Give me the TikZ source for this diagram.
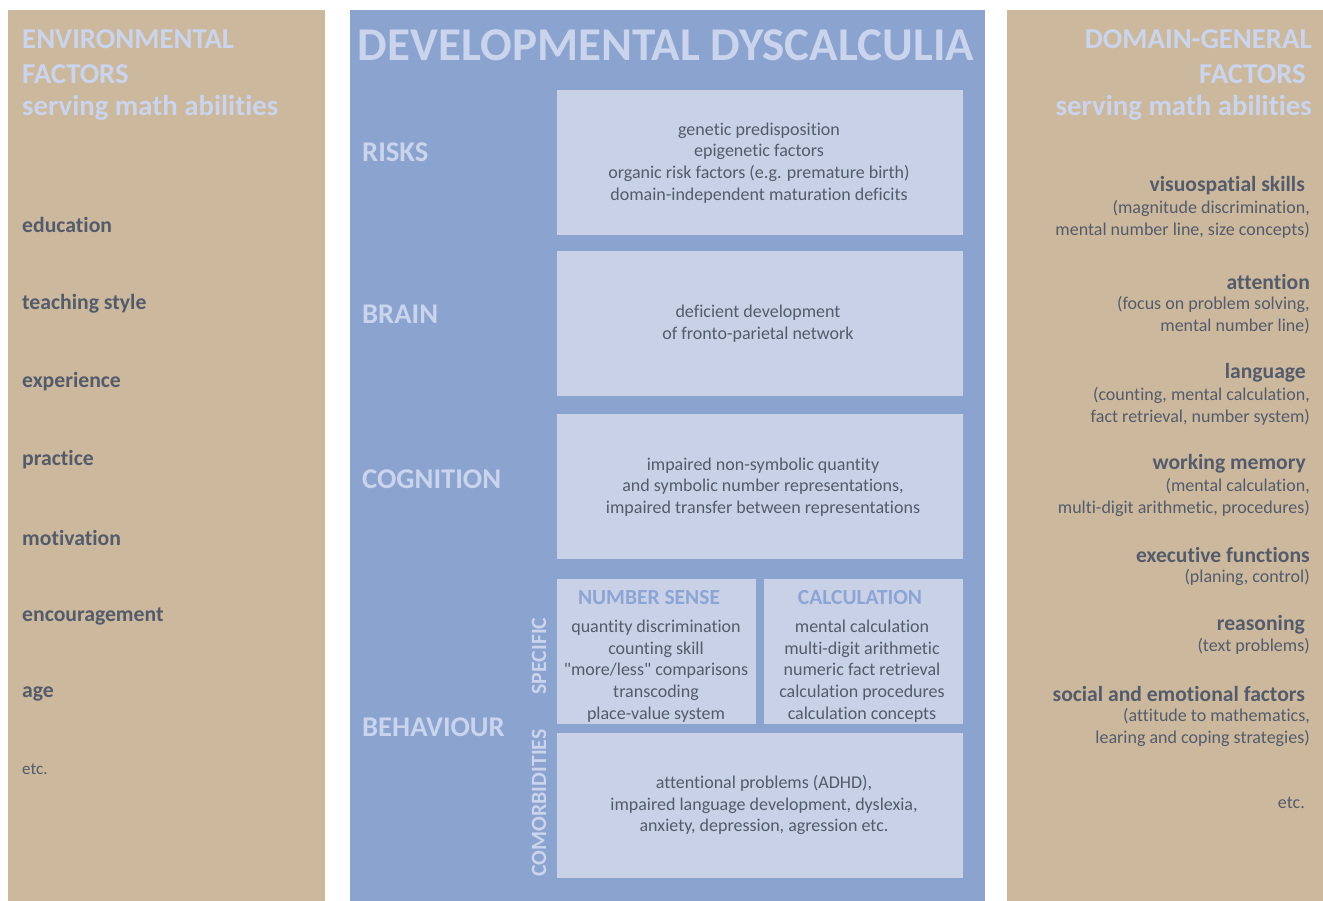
\documentclass[tikz,border=0pt]{standalone}
\usepackage{fontspec}
\setmainfont[Ligatures=NoCommon]{Carlito}
\definecolor{tan}{HTML}{CCB99D}
\definecolor{bluep}{HTML}{8BA3CF}
\definecolor{lightbox}{HTML}{C9D1E6}
\definecolor{titletext}{HTML}{CAD4EC}
\definecolor{darktext}{HTML}{545B6B}
\definecolor{headblue}{HTML}{8CA5D6}
\tikzset{
  heading/.style={inner sep=0pt, text=titletext, font={\fontsize{28.8}{35}\selectfont\bfseries}},
  rowlabel/.style={inner sep=0pt, anchor=west, text=titletext, font={\fontsize{28.6}{30}\selectfont\bfseries}},
  leftitem/.style={inner sep=0pt, anchor=west, text=darktext, font={\fontsize{21.7}{24}\selectfont\bfseries}},
  rtitle/.style={inner sep=0pt, anchor=east, text=darktext, font={\fontsize{21.6}{24}\selectfont\bfseries}},
  rsub/.style={inner sep=0pt, anchor=east, text=darktext, font={\fontsize{18}{22}\selectfont}},
  boxtext/.style={inner sep=0pt, align=center, text=darktext, font={\fontsize{18}{21.6}\selectfont}},
  subhead/.style={inner sep=0pt, text=headblue, font={\fontsize{21.5}{24}\selectfont\bfseries}},
  vlabel/.style={inner sep=0pt, rotate=90, text=titletext, font={\fontsize{21.8}{24}\selectfont\bfseries}}
}
\begin{document}
\begin{tikzpicture}[x=1pt,y=-1pt]
\useasboundingbox (0,0) rectangle (1323,901);
\fill[white] (0,0) rectangle (1323,901);
% panels
\fill[tan] (8,10) rectangle (325,901);
\fill[bluep] (350,10) rectangle (985,901);
\fill[tan] (1007,10) rectangle (1323,901);
% boxes
\fill[lightbox] (557,90) rectangle (963,235);
\fill[lightbox] (557,251) rectangle (963,396);
\fill[lightbox] (557,414) rectangle (963,559);
\fill[lightbox] (557,579) rectangle (756,724);
\fill[lightbox] (764,579) rectangle (963,724);
\fill[lightbox] (557,733) rectangle (963,878);
% title
\node[inner sep=0pt, text=titletext, font={\fontsize{47}{50}\selectfont\bfseries}] (title) at (666,45) {DEVELOPMENTAL DYSCALCULIA};
% left headings
\node[heading, anchor=west] (lh1) at (22,39) {ENVIRONMENTAL};
\node[heading, anchor=west] (lh2) at (22,74) {FACTORS};
\node[heading, anchor=west] (lh3) at (22,108) {serving math abilities};
% left items
\node[leftitem] (l1) at (22,225) {education};
\node[leftitem] (l2) at (22,304) {teaching style};
\node[leftitem] (l3) at (22,382) {experience};
\node[leftitem] (l4) at (22,460) {practice};
\node[leftitem] (l5) at (22,538) {motivation};
\node[leftitem] (l6) at (22,616) {encouragement};
\node[leftitem] (l7) at (22,694) {age};
\node[inner sep=0pt, anchor=west, text=darktext, font={\fontsize{17}{20}\selectfont}] (l8) at (22,769) {etc.};
% right headings
\node[heading, anchor=east] (rh1) at (1312,39) {DOMAIN-GENERAL};
\node[heading, anchor=east] (rh2) at (1306,74) {FACTORS};
\node[heading, anchor=east] (rh3) at (1312,108) {serving math abilities};
% right items
\node[rtitle] (r1) at (1305,186) {visuospatial skills};
\node[rsub] (r1a) at (1310,208) {(magnitude discrimination,};
\node[rsub] (r1b) at (1310,230) {mental number line, size concepts)};
\node[rtitle] (r2) at (1310,282) {attention};
\node[rsub] (r2a) at (1310,304) {(focus on problem solving,};
\node[rsub] (r2b) at (1310,326) {mental number line)};
\node[rtitle] (r3) at (1306,373) {language};
\node[rsub] (r3a) at (1310,395) {(counting, mental calculation,};
\node[rsub] (r3b) at (1310,417) {fact retrieval, number system)};
\node[rtitle] (r4) at (1306,464) {working memory};
\node[rsub] (r4a) at (1310,486) {(mental calculation,};
\node[rsub] (r4b) at (1310,508) {multi-digit arithmetic, procedures)};
\node[rtitle] (r5) at (1310,555) {executive functions};
\node[rsub] (r5a) at (1310,577) {(planing, control)};
\node[rtitle] (r6) at (1305,625) {reasoning};
\node[rsub] (r6a) at (1310,646) {(text problems)};
\node[rtitle] (r7) at (1305,694) {social and emotional factors};
\node[rsub] (r7a) at (1310,716) {(attitude to mathematics,};
\node[rsub] (r7b) at (1310,738) {learing and coping strategies)};
\node[rsub] (r8) at (1305,803) {etc.};
% row labels
\node[rowlabel] (risks) at (362,152) {RISKS};
\node[rowlabel] (brain) at (362,314) {BRAIN};
\node[rowlabel] (cog) at (362,479) {COGNITION};
\node[rowlabel] (beh) at (362,727) {BEHAVIOUR};
% box texts
\node[boxtext] (t1) at (759,163) {genetic predisposition\\epigenetic factors\\organic risk factors (e.g. premature birth)\\domain-independent maturation deficits};
\node[boxtext] (t2) at (758,324) {deficient development\\of fronto-parietal network};
\node[boxtext] (t3) at (763,487) {impaired non-symbolic quantity\\and symbolic number representations,\\impaired transfer between representations};
\node[subhead] (nsh) at (649,598) {NUMBER SENSE};
\node[subhead] (calh) at (860,598) {CALCULATION};
\node[boxtext] (t4) at (656,671) {quantity discrimination\\counting skill\\\textquotedbl more/less\textquotedbl{} comparisons\\transcoding\\place-value system};
\node[boxtext] (t5) at (862,671) {mental calculation\\multi-digit arithmetic\\numeric fact retrieval\\calculation procedures\\calculation concepts};
\node[boxtext] (t6) at (764,805) {attentional problems (ADHD),\\impaired language development, dyslexia,\\anxiety, depression, agression etc.};
\node[vlabel] (spec) at (539,656) {SPECIFIC};
\node[vlabel] (comor) at (539,803) {COMORBIDITIES};
\end{tikzpicture}
\end{document}
